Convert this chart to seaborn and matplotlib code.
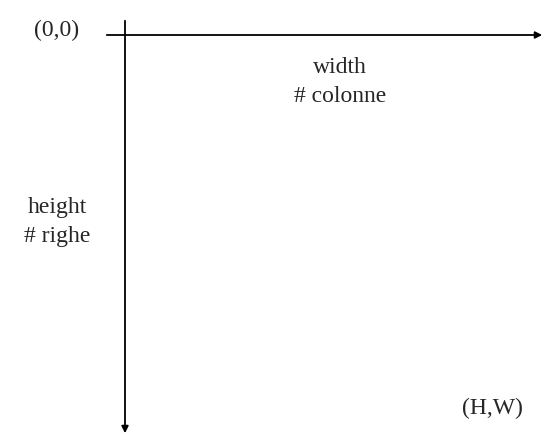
import matplotlib
matplotlib.use("Agg")
import matplotlib.pyplot as plt
import seaborn as sns

# -----------------------------
# DATA
# -----------------------------
labels = ["(0,0)", "width\n# colonne", "height\n# righe", "(H,W)"]
label_x = [57, 340, 57, 492]
label_y = [30, 82, 222, 408]

sns.set_style("white")
plt.rcParams['font.family'] = ['Liberation Serif', 'DejaVu Serif']

fig = plt.figure(figsize=(5.55, 4.39), dpi=100)
ax = fig.add_axes([0, 0, 1, 1])
ax.set_xlim(0, 555)
ax.set_ylim(439, 0)
ax.axis("off")

# axes arrows
ax.annotate("", xy=(545, 36), xytext=(104, 36),
            arrowprops=dict(arrowstyle="-|>", color="black", lw=1.3, mutation_scale=10))
ax.annotate("", xy=(125, 437), xytext=(125, 19),
            arrowprops=dict(arrowstyle="-|>", color="black", lw=1.3, mutation_scale=10))

for t, x, y in zip(labels, label_x, label_y):
    ax.text(x, y, t, ha="center", va="center", fontsize=17, linespacing=1.45)

fig.savefig("out.png", dpi=100)
